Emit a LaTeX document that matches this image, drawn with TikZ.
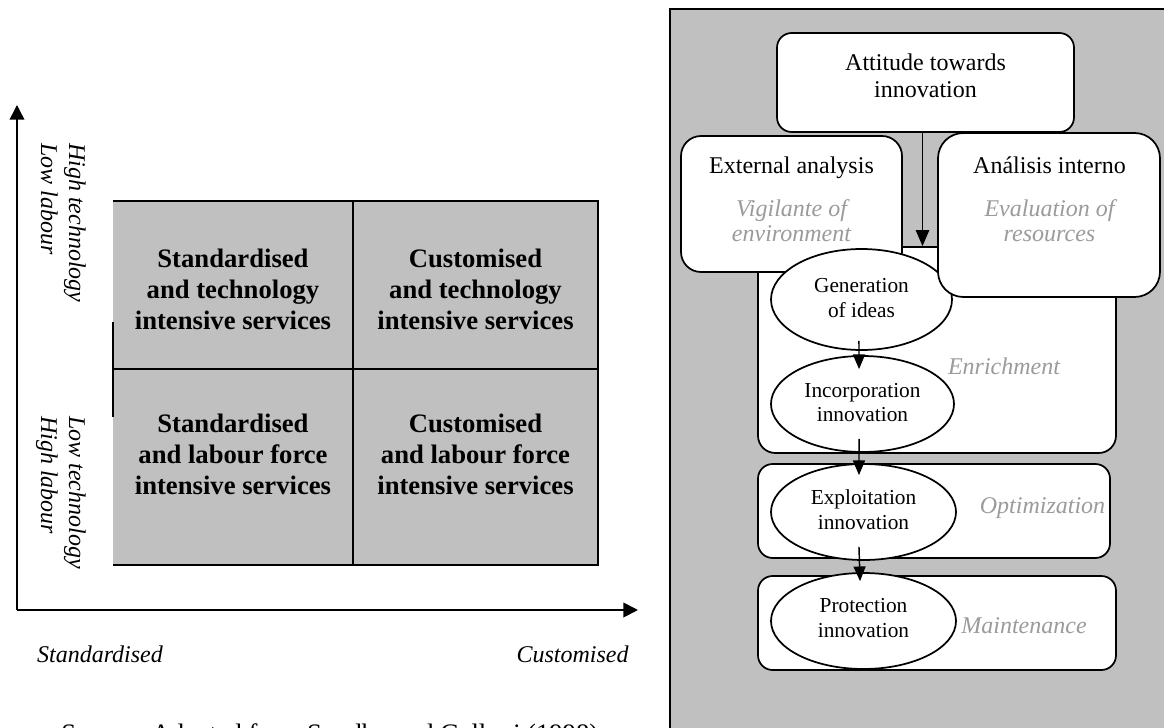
\documentclass[tikz,border=0pt]{standalone}
\usepackage{fontspec}
\setmainfont{Liberation Serif}
\usetikzlibrary{arrows.meta,shapes.geometric}
\definecolor{panelgray}{RGB}{192,192,192}
\definecolor{softtext}{RGB}{155,155,155}
\begin{document}
\begin{tikzpicture}[x=0.75pt,y=-0.75pt,
  rbox/.style={draw, line width=1.3pt, fill=white, inner sep=0pt},
  ell/.style={draw, ellipse, line width=1.3pt, fill=white, inner sep=0pt},
  txt/.style={font=\fontsize{18}{20}\selectfont, inner sep=0pt, anchor=base},
  etxt/.style={font=\fontsize{16}{18}\selectfont, inner sep=0pt, anchor=base},
  gtxt/.style={font=\fontsize{18}{20}\selectfont\itshape, text=softtext, inner sep=0pt, anchor=base},
  qtxt/.style={font=\fontsize{20}{23.25}\selectfont\bfseries, align=center, inner sep=0pt, anchor=north},
  axtxt/.style={font=\fontsize{18}{21}\selectfont\itshape, inner sep=0pt},
  flow/.style={-{Triangle[length=11pt,width=9pt]}, line width=1.1pt},
  axisline/.style={-{Triangle[length=11pt,width=11pt]}, line width=1.1pt},
  gridline/.style={line width=1.1pt}
]
\useasboundingbox (0,0) rectangle (1164,728);
\begin{scope}
\clip (0,0) rectangle (1164,728);

% ---------------- left chart ----------------
\fill[panelgray] (113,201) rectangle (598,565);
\draw[gridline] (113,201) -- (598,201) -- (598,565) -- (113,565);
\draw[gridline] (113,369) -- (598,369);
\draw[gridline] (353,201) -- (353,565);
\draw[line width=1.6pt] (113,322) -- (113,417);

\node[qtxt] (qtl) at (233,249) {Standardised\\and technology\\intensive services};
\node[qtxt] (qtr) at (475.5,249) {Customised\\and technology\\intensive services};
\node[qtxt] (qbl) at (233,414) {Standardised\\and labour force\\intensive services};
\node[qtxt] (qbr) at (475.5,414) {Customised\\and labour force\\intensive services};

\coordinate (origin) at (17,610);
\coordinate (ytip) at (17,105);
\coordinate (xthick) at (113,610);
\coordinate (xtip) at (638,610);
\draw[axisline] (origin) -- (ytip);
\draw[line width=0.9pt] (origin) -- (xthick);
\draw[axisline, line width=1.4pt] (xthick) -- (xtip);

\node[axtxt, rotate=-90, anchor=north west, align=left] (ylabhi) at (86,143) {High technology\\Low labour};
\node[axtxt, rotate=-90, anchor=north west, align=left] (ylablo) at (86,416) {Low technology\\High labour};
\node[axtxt, anchor=base] (xlabstd) at (100,662) {Standardised};
\node[axtxt, anchor=base] (xlabcus) at (572.5,662) {Customised};

\node[font=\fontsize{20}{24}\selectfont, anchor=base west, inner sep=0pt] (src) at (61,742) {Source: Adapted from Sundbo and Gallouj (1998)};

% ---------------- right panel ----------------
\draw[line width=1.3pt, fill=panelgray] (670,9) rectangle (1175,740);

\node[rbox, rounded corners=11pt, minimum width=222.75pt, minimum height=74.25pt] (att) at (925.5,82.5) {};
\node[txt] (att1) at (925.5,70) {Attitude towards};
\node[txt] (att2) at (925.5,97) {innovation};

\node[rbox, rounded corners=13pt, minimum width=268.5pt, minimum height=154.5pt] (enr) at (937,350) {};
\node[gtxt] (enrl) at (1004,374) {Enrichment};

\node[rbox, rounded corners=15pt, minimum width=165.75pt, minimum height=102pt] (ext) at (791.5,204) {};
\node[txt] (ext1) at (791.5,173) {External analysis};
\node[gtxt] (ext2) at (791.5,216) {Vigilante of};
\node[gtxt] (ext3) at (791.5,241) {environment};

\node[ell, minimum width=135.75pt, minimum height=75.75pt] (gen) at (861.5,299.5) {};
\node[etxt] (gen1) at (861.5,292) {Generation};
\node[etxt] (gen2) at (861.5,317) {of ideas};

\node[rbox, rounded corners=19pt, minimum width=166.5pt, minimum height=123pt] (ana) at (1049,215) {};
\node[txt] (ana1) at (1049.5,173) {Análisis interno};
\node[gtxt] (ana2) at (1049.5,216) {Evaluation of};
\node[gtxt] (ana3) at (1049.5,241) {resources};

\node[ell, minimum width=137.25pt, minimum height=72pt] (inc) at (862.5,404) {};
\node[etxt] (inc1) at (862.5,397) {Incorporation};
\node[etxt] (inc2) at (862.5,421) {innovation};

\node[rbox, rounded corners=11pt, minimum width=264pt, minimum height=70.5pt] (opt) at (934,511) {};
\node[gtxt] (optl) at (1042.5,513) {Optimization};
\node[ell, minimum width=138.75pt, minimum height=72pt] (exp) at (863.5,512) {};
\node[etxt] (exp1) at (863.5,504) {Exploitation};
\node[etxt] (exp2) at (863.5,529) {innovation};

\node[rbox, rounded corners=11pt, minimum width=268.5pt, minimum height=70.5pt] (mnt) at (937,623) {};
\node[gtxt] (mntl) at (1024,633) {Maintenance};
\node[ell, minimum width=138.75pt, minimum height=72pt] (prot) at (863.5,621) {};
\node[etxt] (prot1) at (863.5,612) {Protection};
\node[etxt] (prot2) at (863.5,637) {innovation};

% connectors
\coordinate (attout) at ([xshift=-2.25pt]att.south);
\draw[flow, -{Triangle[length=12pt,width=10pt]}] (attout) -- (attout |- enr.north);
\draw[flow] ([xshift=-1.9pt,yshift=7.5pt]gen.south) -- ([xshift=-2.6pt,yshift=-10.5pt]inc.north);
\draw[flow] ([xshift=-2.6pt,yshift=10.5pt]inc.south) -- ([xshift=-3.4pt,yshift=-9pt]exp.north);
\draw[flow] ([xshift=-3.4pt,yshift=10.5pt]exp.south) -- ([xshift=-2.6pt,yshift=-6.75pt]prot.north);
\end{scope}
\end{tikzpicture}
\end{document}
